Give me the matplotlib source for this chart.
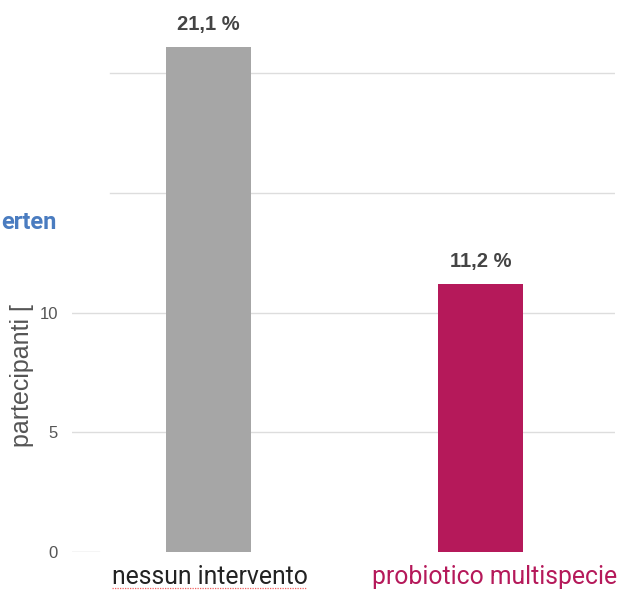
import matplotlib.pyplot as plt
import matplotlib.transforms as mtransforms

# dati
categorie = ["nessun intervento", "probiotico multispecie"]
valori = [21.1, 11.2]
etichette = ["21,1 %", "11,2 %"]
colori_barre = ["#a6a6a6", "#b5195a"]
colori_testo = ["#222222", "#b5195a"]
yticks = [0, 5, 10]

fig = plt.figure(figsize=(6.18, 5.9), dpi=100)
W, H = 618, 590
# asse in pixel: x 72..615, y (dall'alto) 0..552
ax = fig.add_axes([72 / W, (H - 552) / H, (615 - 72) / W, 552 / H])
ax.set_xlim(-0.502, 1.494)
ax.set_ylim(0, 23.05)

ax.bar(range(len(valori)), valori, width=0.3125, color=colori_barre, zorder=3)

# griglia (parzialmente coperta nell'originale)
for g in [5, 10]:
    ax.axhline(g, xmin=0, xmax=1, color="#dddddd", lw=1, zorder=1)
for g in [15, 20]:
    ax.axhline(g, xmin=(110 - 72) / 543, xmax=1, color="#dddddd", lw=1, zorder=1)
ax.axhline(0, xmin=0, xmax=27 / 543, color="#cccccc", lw=1, zorder=1)

for i, (v, t) in enumerate(zip(valori, etichette)):
    ax.annotate(t, (i, v), xytext=(0, 16), textcoords="offset points",
                ha="center", va="center", fontsize=14.5, fontweight="bold",
                color="#444444", family="Liberation Sans")

for s in ax.spines.values():
    s.set_visible(False)
ax.set_xticks([])
ax.set_yticks(yticks)
ax.set_yticklabels([str(t) for t in yticks], fontsize=12, color="#555555",
                   family="Liberation Sans")
ax.tick_params(axis="y", length=0, pad=10)

# etichette categorie
trans = mtransforms.blended_transform_factory(ax.transData, fig.transFigure)
offs = [0.004, 0.053]
for i, (c, col) in enumerate(zip(categorie, colori_testo)):
    ax.text(i + offs[i], 1 - 577 / H, c, transform=trans, ha="center", va="center",
            fontsize=17.8, color=col, family="Roboto")
# sottolineatura del correttore ortografico
fig.lines.append(plt.Line2D([112 / W, 307 / W], [1 - 588 / H, 1 - 588 / H],
                            transform=fig.transFigure, color="#f06060", lw=0.9,
                            ls=(0, (1, 1))))

fig.text(22 / W, 1 - 376 / H, "partecipanti [", rotation=90, ha="center",
         va="center", fontsize=18, color="#555555", family="Liberation Sans")
fig.text(1 / W, 1 - 222 / H, "erten", ha="left", va="center", fontsize=17,
         fontweight="bold", color="#4a7cc0", family="Roboto")

fig.savefig("out.png", dpi=100)
